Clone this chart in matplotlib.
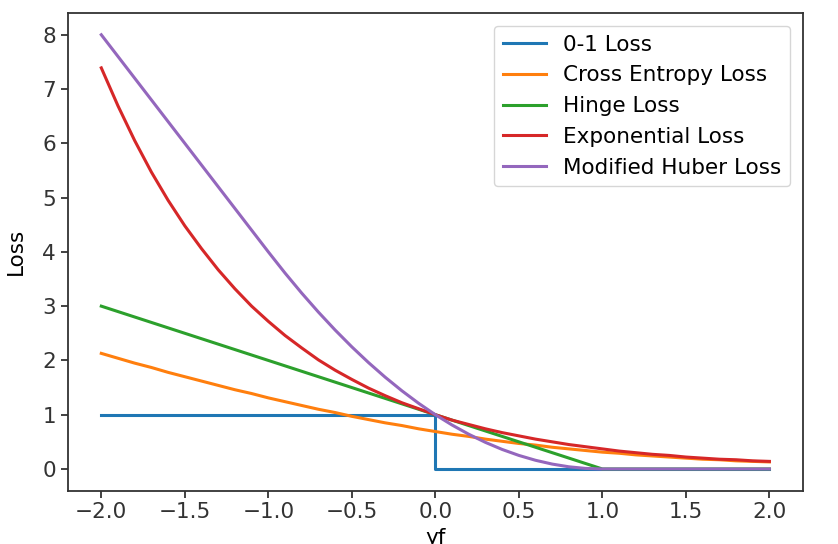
import numpy as np
import matplotlib
matplotlib.use("Agg")
import matplotlib.pyplot as plt

# sample points along the margin axis (every 0.1)
x = [-2.0, -1.9, -1.8, -1.7, -1.6, -1.5, -1.4, -1.3, -1.2, -1.1,
     -1.0, -0.9, -0.8, -0.7, -0.6, -0.5, -0.4, -0.3, -0.2, -0.1,
     0.0, 0.1, 0.2, 0.3, 0.4, 0.5, 0.6, 0.7, 0.8, 0.9,
     1.0, 1.1, 1.2, 1.3, 1.4, 1.5, 1.6, 1.7, 1.8, 1.9, 2.0]

zero_one_x = [-2.0, 0.0, 0.0, 2.0]
zero_one = [1, 1, 0, 0]

cross_entropy = [2.13, 2.04, 1.95, 1.87, 1.78, 1.70, 1.62, 1.54, 1.46, 1.39,
                 1.31, 1.24, 1.17, 1.10, 1.04, 0.97, 0.91, 0.85, 0.80, 0.74,
                 0.69, 0.64, 0.60, 0.55, 0.51, 0.47, 0.44, 0.40, 0.37, 0.34,
                 0.31, 0.29, 0.26, 0.24, 0.22, 0.20, 0.18, 0.17, 0.15, 0.14, 0.13]

hinge = [3.0, 2.9, 2.8, 2.7, 2.6, 2.5, 2.4, 2.3, 2.2, 2.1,
         2.0, 1.9, 1.8, 1.7, 1.6, 1.5, 1.4, 1.3, 1.2, 1.1,
         1.0, 0.9, 0.8, 0.7, 0.6, 0.5, 0.4, 0.3, 0.2, 0.1,
         0.0, 0.0, 0.0, 0.0, 0.0, 0.0, 0.0, 0.0, 0.0, 0.0, 0.0]

exponential = [7.39, 6.69, 6.05, 5.47, 4.95, 4.48, 4.06, 3.67, 3.32, 3.00,
               2.72, 2.46, 2.23, 2.01, 1.82, 1.65, 1.49, 1.35, 1.22, 1.11,
               1.00, 0.90, 0.82, 0.74, 0.67, 0.61, 0.55, 0.50, 0.45, 0.41,
               0.37, 0.33, 0.30, 0.27, 0.25, 0.22, 0.20, 0.18, 0.17, 0.15, 0.14]

mod_huber = [8.0, 7.6, 7.2, 6.8, 6.4, 6.0, 5.6, 5.2, 4.8, 4.4,
             4.0, 3.61, 3.24, 2.89, 2.56, 2.25, 1.96, 1.69, 1.44, 1.21,
             1.0, 0.81, 0.64, 0.49, 0.36, 0.25, 0.16, 0.09, 0.04, 0.01,
             0.0, 0.0, 0.0, 0.0, 0.0, 0.0, 0.0, 0.0, 0.0, 0.0, 0.0]

labels = ["0-1 Loss", "Cross Entropy Loss", "Hinge Loss",
          "Exponential Loss", "Modified Huber Loss"]

plt.rcParams['font.size'] = 15.5
plt.rcParams['axes.linewidth'] = 1.3
plt.rcParams['axes.edgecolor'] = '#333333'
plt.rcParams['xtick.major.size'] = 5
plt.rcParams['ytick.major.size'] = 5
plt.rcParams['xtick.major.width'] = 1.3
plt.rcParams['ytick.major.width'] = 1.3
plt.rcParams['xtick.color'] = '#333333'
plt.rcParams['ytick.color'] = '#333333'

fig = plt.figure(figsize=(8.38, 5.44), dpi=100)
ax = fig.add_axes([0.081, 0.098, 0.877, 0.878])

ax.plot(zero_one_x, zero_one, lw=2.2, label=labels[0])
ax.plot(x, cross_entropy, lw=2.2, label=labels[1])
ax.plot(x, hinge, lw=2.2, label=labels[2])
ax.plot(x, exponential, lw=2.2, label=labels[3])
ax.plot(x, mod_huber, lw=2.2, label=labels[4])

ax.set_xticks(np.arange(-2.0, 2.01, 0.5))
ax.set_ylabel("Loss", labelpad=12)
ax.set_xlabel("yf")
ax.legend(loc="upper right", fontsize=15.5, borderaxespad=0.6)

fig.savefig("out.png", dpi=100)
